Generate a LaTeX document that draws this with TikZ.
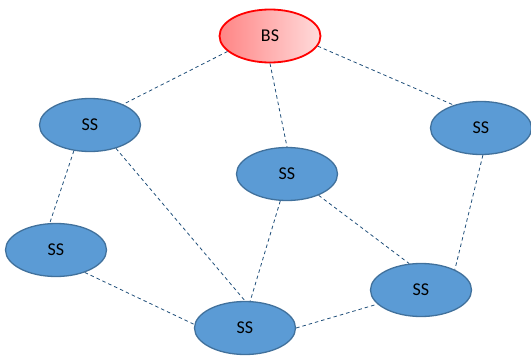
\documentclass[tikz,border=0pt]{standalone}
\usepackage{fontspec}
\setmainfont{Carlito}
\usetikzlibrary{shapes.geometric}
\definecolor{ssfill}{HTML}{5B9BD5}
\definecolor{ssline}{HTML}{41719C}
\definecolor{linkcol}{HTML}{1F4E79}
\begin{document}
\begin{tikzpicture}[x=1pt,y=-1pt,
  station/.style={ellipse, draw=ssline, line width=1.3pt, fill=ssfill,
    minimum width=101pt, minimum height=53pt, inner sep=0pt,
    font=\fontsize{18}{20}\selectfont},
  base/.style={ellipse, draw=red, line width=1.8pt,
    left color=red!48, right color=red!14,
    minimum width=101pt, minimum height=53pt, inner sep=0pt,
    font=\fontsize{18}{20}\selectfont},
  link/.style={draw=linkcol, line width=0.8pt, dash pattern=on 3.5pt off 3pt}]
\useasboundingbox (0,0) rectangle (531,356);
% base station and subscriber stations
\node[base] (bs) at (270,36) {BS};
\node[station] (s1) at (90,125) {SS};
\node[station] (s2) at (481,128) {SS};
\node[station] (s3) at (287,174) {SS};
\node[station] (s4) at (56,250) {SS};
\node[station] (s5) at (245,328) {SS};
\node[station] (s6) at (421,290) {SS};
% dashed links between border points
\draw[link] (bs.200) -- (s1.32);
\draw[link] (bs.270) -- (s3.90);
\draw[link] (bs.348) -- (s2.140);
\draw[link] (s1.238) -- (s4.103);
\draw[link] (s1.318) -- (s5.90);
\draw[link] (s3.256) -- (s5.79);
\draw[link] (s3.326) -- (s6.114);
\draw[link] (s2.274) -- (s6.31);
\draw[link] (s4.322) -- (s5.176);
\draw[link] (s5.0) -- (s6.198);
\end{tikzpicture}
\end{document}
